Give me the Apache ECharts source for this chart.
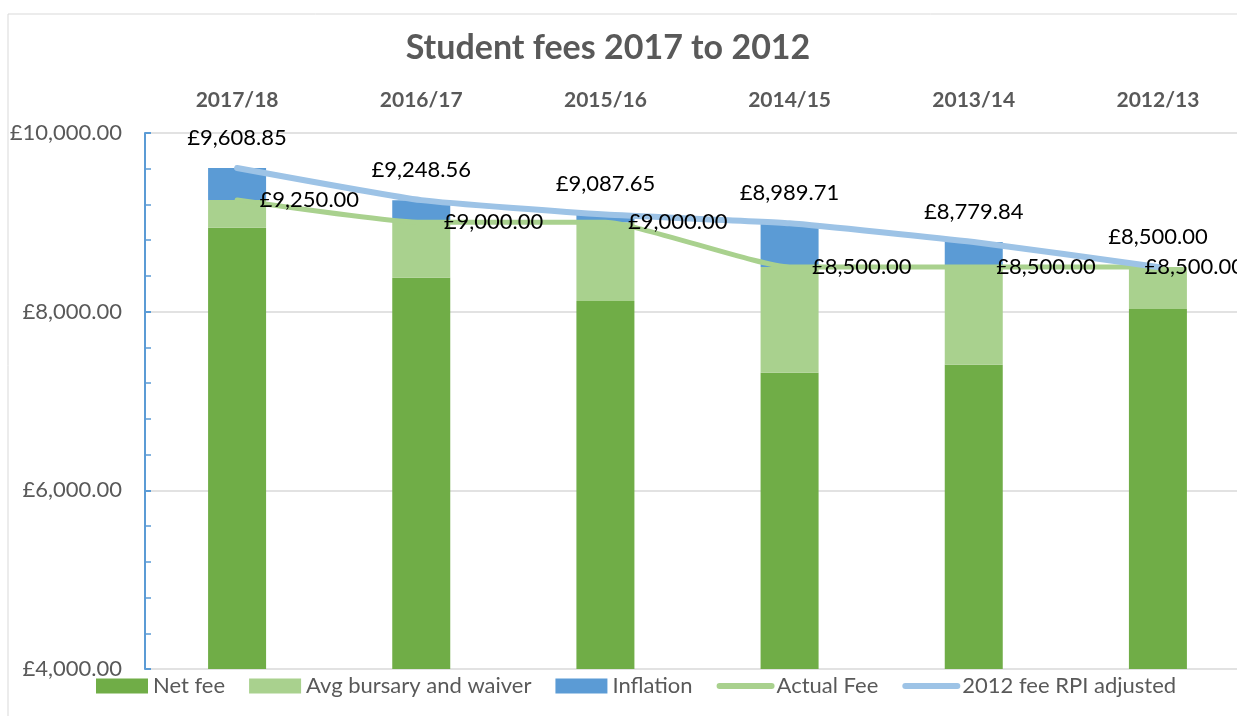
<!DOCTYPE html>
<html>
<head>
    <meta charset="utf-8">
    <script src="https://cdn.jsdelivr.net/npm/echarts@6/dist/echarts.min.js"></script>
    <style>
        html, body { margin: 0; padding: 0; background: #fff; }
    </style>
</head>
<body>
    <div id="main" style="width: 1237px;height:716px;"></div>

    <script type="text/javascript">
        var years = ['2017/18', '2016/17', '2015/16', '2014/15', '2013/14', '2012/13'];
        var netFee = [8940, 8380, 8120, 7315, 7405, 8030];
        var bursary = [310, 620, 880, 1185, 1095, 470];
        var inflation = [358.85, 248.56, 87.65, 489.71, 279.84, 0];
        var actualFee = [9250, 9000, 9000, 8500, 8500, 8500];
        var rpiFee = [9608.85, 9248.56, 9087.65, 8989.71, 8779.84, 8500];

        var font = 'Lato, "Noto Sans", sans-serif';
        var grey = '#595959';

        function money(v) {
            return '£' + Number(v).toLocaleString('en-GB', { minimumFractionDigits: 2, maximumFractionDigits: 2 });
        }

        // last label of the actual fee is pushed left, like Excel does near the edge
        var actualLabelData = actualFee.map(function (v, i) {
            if (i === actualFee.length - 1) {
                return { value: v, label: { offset: [-36, 0] } };
            }
            return v;
        });

        var myChart = echarts.init(document.getElementById('main'));

        option = {
            animation: false,
            textStyle: { fontFamily: font },
            title: {
                text: 'Student fees 2017 to 2012',
                left: 603,
                textAlign: 'center',
                top: 26,
                textStyle: { fontSize: 34, fontWeight: 'bold', color: grey, fontFamily: font }
            },
            graphic: [{
                type: 'rect',
                shape: { x: 8, y: 14, width: 1300, height: 800 },
                style: { fill: null, stroke: '#D9D9D9', lineWidth: 1 },
                silent: true
            }],
            legend: {
                bottom: 14,
                left: 91,
                itemWidth: 52,
                itemHeight: 15,
                itemGap: 24,
                textStyle: { fontSize: 22, color: grey, fontFamily: font },
                data: [
                    { name: 'Net fee', icon: 'rect' },
                    { name: 'Avg bursary and waiver', icon: 'rect' },
                    { name: 'Inflation', icon: 'rect' },
                    { name: 'Actual Fee', itemStyle: { opacity: 0 }, lineStyle: { width: 6, cap: 'round' } },
                    { name: '2012 fee RPI adjusted', itemStyle: { opacity: 0 }, lineStyle: { width: 6, cap: 'round' } }
                ]
            },
            grid: {
                left: 145,
                top: 133,
                width: 1105,
                height: 536,
                outerBoundsMode: 'none',
                containLabel: false
            },
            xAxis: {
                type: 'category',
                position: 'top',
                data: years,
                axisLine: { show: false },
                axisTick: { show: false },
                axisLabel: { fontSize: 21, fontWeight: 'bold', color: grey, margin: 22, fontFamily: font }
            },
            yAxis: {
                type: 'value',
                min: 4000,
                max: 10000,
                interval: 2000,
                axisLine: { show: true, lineStyle: { color: '#5B9BD5', width: 2 } },
                axisTick: { show: true, inside: true, length: 6, lineStyle: { color: '#5B9BD5', width: 2 } },
                minorTick: { show: true, splitNumber: 5, length: 6, lineStyle: { color: '#5B9BD5', width: 1.5 } },
                splitLine: { show: true, lineStyle: { color: '#D9D9D9', width: 1.5 } },
                axisLabel: {
                    fontSize: 22, color: grey, margin: 23, fontFamily: font,
                    formatter: money
                }
            },
            series: [
                {
                    name: 'Net fee', type: 'bar', stack: 'fee', data: netFee,
                    barWidth: 58,
                    itemStyle: { color: '#70AD47' }
                },
                {
                    name: 'Avg bursary and waiver', type: 'bar', stack: 'fee', data: bursary,
                    itemStyle: { color: '#A9D18E' }
                },
                {
                    name: 'Inflation', type: 'bar', stack: 'fee', data: inflation,
                    itemStyle: { color: '#5B9BD5' }
                },
                {
                    name: 'Actual Fee', type: 'line', data: actualFee,
                    symbol: 'circle', symbolSize: 1, smooth: 0.15,
                    lineStyle: { color: '#A9D18E', width: 5, cap: 'round' },
                    itemStyle: { color: '#A9D18E' },
                    z: 3
                },
                {
                    name: '2012 fee RPI adjusted', type: 'line', data: rpiFee,
                    symbol: 'circle', symbolSize: 1, smooth: 0.15,
                    lineStyle: { color: '#9DC3E6', width: 6, cap: 'round' },
                    itemStyle: { color: '#9DC3E6' },
                    label: {
                        show: true, position: 'top', distance: 19,
                        fontSize: 22, color: '#000', fontFamily: font,
                        formatter: function (p) { return money(p.value); }
                    },
                    z: 4
                },
                {
                    // labels of the actual fee, drawn above both lines
                    name: 'Actual Fee labels', type: 'line', data: actualLabelData,
                    symbol: 'circle', symbolSize: 1, smooth: 0.15,
                    lineStyle: { opacity: 0 },
                    itemStyle: { color: 'transparent' },
                    label: {
                        show: true, position: 'right', distance: 22,
                        fontSize: 22, color: '#000', fontFamily: font,
                        formatter: function (p) { return money(p.value); }
                    },
                    silent: true,
                    z: 6
                }
            ]
        };

        myChart.setOption(option);
    </script>
</body>
</html>
